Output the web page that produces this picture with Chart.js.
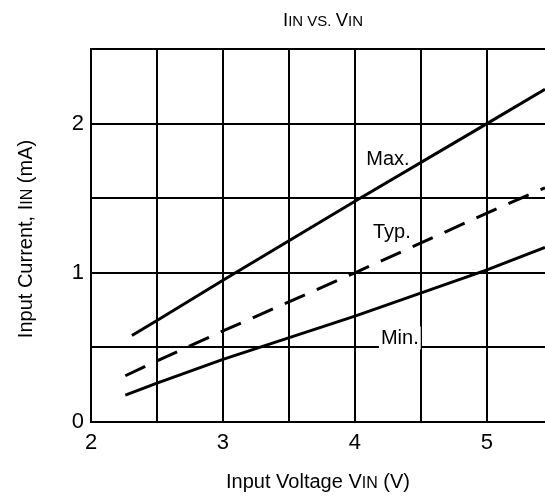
<!DOCTYPE html>
<html>
<head>
<meta charset="utf-8">
<script src="https://cdn.jsdelivr.net/npm/chart.js@4.4.0/dist/chart.umd.min.js"></script>
<style>
  body { margin: 0; background: #fff; }
  #wrap { width: 545px; height: 500px; }
</style>
</head>
<body>
<div id="wrap"><canvas id="chart"></canvas></div>
<script>
// values (V in volts, I in mA)
const maxV = [2.31, 2.5, 3, 4, 5, 5.44];
const maxI = [0.58, 0.68, 0.95, 1.48, 2.0, 2.23];
const typV = [2.26, 2.5, 3, 4, 5, 5.44];
const typI = [0.31, 0.41, 0.61, 1.0, 1.4, 1.57];
const minV = [2.26, 2.5, 3, 4, 5, 5.44];
const minI = [0.18, 0.26, 0.42, 0.71, 1.02, 1.17];

const xTicks = [2, 3, 4, 5];
const yTicks = [0, 1, 2];

const FONT = '"Liberation Sans", Arial, sans-serif';

function pts(xs, ys) {
    return xs.map((x, i) => ({ x: x, y: ys[i] }));
}

// text with small-caps subscripts, drawn piece by piece
function drawParts(ctx, parts, x, y, angle) {
    ctx.save();
    ctx.translate(x, y);
    ctx.rotate(angle || 0);
    ctx.fillStyle = '#000';
    ctx.textAlign = 'left';
    ctx.textBaseline = 'alphabetic';
    let total = 0;
    parts.forEach(p => {
        ctx.font = p[1] + 'px ' + FONT;
        total += ctx.measureText(p[0]).width;
    });
    let cx = -total / 2;
    parts.forEach(p => {
        ctx.font = p[1] + 'px ' + FONT;
        ctx.fillText(p[0], cx, 0);
        cx += ctx.measureText(p[0]).width;
    });
    ctx.restore();
}

const notes = [
    { text: 'Max.', x: 4.25, y: 1.76, box: false },
    { text: 'Typ.', x: 4.28, y: 1.27, box: false },
    { text: 'Min.', x: 4.34, y: 0.56, box: true }
];

const textPlugin = {
    id: 'texts',
    afterDatasetsDraw(chart) {
        const ctx = chart.ctx;
        const xs = chart.scales.x, ys = chart.scales.y;
        ctx.save();
        ctx.font = '20px ' + FONT;
        ctx.textAlign = 'center';
        ctx.textBaseline = 'middle';
        notes.forEach(n => {
            const px = xs.getPixelForValue(n.x);
            const py = ys.getPixelForValue(n.y);
            if (n.box) {
                const w = ctx.measureText(n.text).width;
                ctx.fillStyle = '#fff';
                ctx.fillRect(px - w / 2 - 2, py - 12, w + 4, 23);
            }
            ctx.fillStyle = '#000';
            ctx.fillText(n.text, px, py);
        });
        ctx.restore();

        drawParts(ctx, [['I', 18.5], ['IN VS. ', 15], ['V', 18.5], ['IN', 15]], 323, 26);
        drawParts(ctx, [['Input Voltage V', 20], ['IN', 16], [' (V)', 20]], 318, 488);
        drawParts(ctx, [['Input Current, I', 20], ['IN', 16], [' (mA)', 20]], 32, 239, -Math.PI / 2);
    }
};

let ctx = document.getElementById('chart');
let chart = new Chart(ctx, {
    type: 'line',
    data: {
        datasets: [{
            label: 'Max.',
            data: pts(maxV, maxI),
            borderColor: '#000',
            borderWidth: 3,
            pointRadius: 0,
            fill: false
        }, {
            label: 'Typ.',
            data: pts(typV, typI),
            borderColor: '#000',
            borderWidth: 3,
            borderDash: [22, 13],
            pointRadius: 0,
            fill: false
        }, {
            label: 'Min.',
            data: pts(minV, minI),
            borderColor: '#000',
            borderWidth: 3,
            pointRadius: 0,
            fill: false
        }]
    },
    options: {
        responsive: true,
        maintainAspectRatio: false,
        animation: false,
        layout: { padding: { top: 49, left: 0, right: 0, bottom: 0 } },
        plugins: {
            legend: { display: false },
            title: { display: false },
            tooltip: { enabled: false }
        },
        scales: {
            x: {
                type: 'linear',
                min: 2,
                max: 5.44,
                grid: { color: '#000', lineWidth: 2, drawTicks: false },
                border: { color: '#000', width: 2 },
                ticks: {
                    stepSize: 0.5,
                    includeBounds: false,
                    autoSkip: false,
                    maxRotation: 0,
                    padding: 8,
                    color: '#000',
                    font: { family: FONT, size: 22 },
                    callback: v => xTicks.includes(v) ? String(v) : ''
                },
                afterFit: s => { s.height = 78; }
            },
            y: {
                type: 'linear',
                min: 0,
                max: 2.5,
                grid: { color: '#000', lineWidth: 2, drawTicks: false },
                border: { color: '#000', width: 2 },
                ticks: {
                    stepSize: 0.5,
                    autoSkip: false,
                    padding: 7,
                    color: '#000',
                    font: { family: FONT, size: 22 },
                    callback: v => yTicks.includes(v) ? String(v) : ''
                },
                afterFit: s => { s.width = 91; }
            }
        }
    },
    plugins: [textPlugin]
});
</script>
</body>
</html>
